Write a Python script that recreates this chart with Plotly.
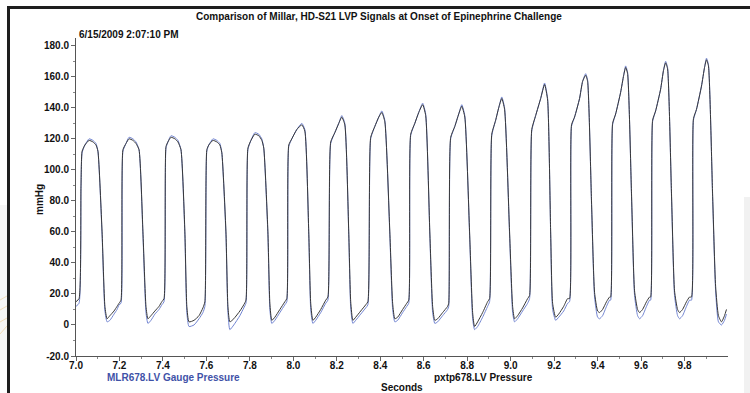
import plotly.graph_objects as go

# ---------------- data ----------------
time_s = [
    7.000, 7.014, 7.023, 7.028, 7.041, 7.060, 7.078, 7.092, 7.101, 7.120, 7.133, 7.143, 7.156, 7.175, 7.189, 7.198,
    7.207, 7.216, 7.230, 7.244, 7.262, 7.276, 7.290, 7.308, 7.322, 7.331, 7.345, 7.363, 7.382, 7.395,
    7.405, 7.414, 7.423, 7.437, 7.455, 7.469, 7.483, 7.501, 7.510, 7.520, 7.543, 7.566, 7.584,
    7.593, 7.602, 7.611, 7.630, 7.648, 7.662, 7.671, 7.690, 7.699, 7.708, 7.726, 7.754, 7.772,
    7.782, 7.791, 7.805, 7.823, 7.841, 7.855, 7.864, 7.883, 7.892, 7.901, 7.915, 7.938, 7.961,
    7.970, 7.979, 7.993, 8.016, 8.039, 8.053, 8.071, 8.080, 8.090, 8.103, 8.126, 8.149,
    8.159, 8.172, 8.191, 8.209, 8.223, 8.237, 8.255, 8.264, 8.274, 8.287, 8.310, 8.333,
    8.343, 8.356, 8.375, 8.393, 8.407, 8.421, 8.444, 8.457, 8.467, 8.480, 8.503, 8.522,
    8.531, 8.540, 8.559, 8.577, 8.595, 8.609, 8.628, 8.641, 8.651, 8.664, 8.687, 8.710,
    8.715, 8.724, 8.743, 8.761, 8.775, 8.789, 8.811, 8.825, 8.834, 8.848, 8.871, 8.894,
    8.903, 8.913, 8.931, 8.945, 8.959, 8.972, 8.995, 9.009, 9.018, 9.032, 9.055, 9.078,
    9.087, 9.097, 9.115, 9.138, 9.156, 9.170, 9.184, 9.193, 9.207, 9.221, 9.244, 9.262,
    9.271, 9.280, 9.294, 9.317, 9.331, 9.345, 9.354, 9.372, 9.386, 9.400, 9.409, 9.423, 9.441, 9.455,
    9.460, 9.469, 9.483, 9.506, 9.520, 9.529, 9.538, 9.556, 9.570, 9.584, 9.593, 9.607, 9.625, 9.639,
    9.644, 9.653, 9.667, 9.690, 9.703, 9.713, 9.722, 9.740, 9.754, 9.768, 9.777, 9.791, 9.809, 9.823,
    9.832, 9.841, 9.855, 9.878, 9.892, 9.901, 9.910, 9.929, 9.943, 9.956, 9.970, 9.984, 9.993,
]

pxtp_mmHg = [
    15, 17, 90, 112, 116, 119, 118, 116, 112, 60, 12, 4, 6, 9, 12, 14,
    16, 113, 117, 120, 119, 117, 113, 60, 12, 4, 6, 9, 12, 15,
    17, 115, 118, 121, 120, 118, 113, 60, 12, 2, 3, 6, 11,
    15, 113, 116, 119, 118, 116, 111, 60, 12, 2, 4, 9, 13,
    16, 114, 119, 123, 122, 119, 114, 60, 14, 3, 5, 10, 15,
    17, 116, 120, 126, 129, 125, 60, 14, 3, 5, 10, 16,
    18, 118, 124, 130, 134, 129, 60, 15, 3, 5, 9, 13,
    15, 121, 128, 134, 137, 131, 60, 14, 4, 5, 10, 14,
    16, 123, 130, 137, 142, 135, 60, 12, 3, 4, 8, 12,
    14, 121, 128, 136, 141, 134, 60, 8, -1, 2, 8, 15,
    17, 123, 132, 140, 146, 139, 60, 12, 4, 6, 11, 17,
    19, 126, 135, 146, 155, 145, 60, 14, 5, 7, 12, 17,
    17, 129, 134, 146, 157, 161, 157, 80, 21, 9, 8, 10, 15, 18,
    18, 130, 136, 150, 161, 166, 162, 85, 22, 10, 8, 10, 15, 18,
    18, 132, 138, 152, 164, 169, 165, 85, 22, 10, 8, 10, 15, 18,
    18, 133, 139, 154, 166, 171, 167, 85, 25, 6, 2, 6, 10,
]

mlr_mmHg = [
    12, 14, 88, 111, 116, 120, 119, 117, 112, 58, 9, 2, 3, 7, 10, 13,
    14, 112, 117, 121, 120, 118, 113, 58, 8, 1, 3, 7, 10, 13,
    15, 114, 118, 122, 121, 119, 113, 58, 8, -1, 0, 4, 8,
    12, 112, 116, 120, 119, 117, 111, 58, 8, -3, 0, 6, 11,
    14, 113, 119, 124, 123, 120, 114, 58, 10, 1, 3, 8, 13,
    15, 115, 120, 126, 130, 126, 58, 10, 1, 3, 8, 14,
    16, 117, 124, 130, 135, 130, 58, 11, 1, 3, 7, 11,
    13, 120, 128, 134, 138, 132, 58, 10, 2, 3, 8, 12,
    14, 122, 130, 137, 143, 136, 58, 8, 1, 2, 6, 10,
    12, 120, 128, 136, 142, 135, 58, 4, -3, -1, 5, 12,
    15, 122, 132, 140, 147, 140, 58, 8, 2, 4, 9, 14,
    17, 125, 135, 146, 156, 146, 58, 10, 3, 5, 9, 14,
    15, 128, 134, 146, 157, 162, 158, 78, 18, 5, 4, 6, 12, 16,
    16, 129, 136, 150, 161, 167, 163, 83, 19, 6, 4, 6, 12, 16,
    16, 131, 138, 152, 164, 170, 166, 83, 19, 6, 4, 6, 12, 16,
    16, 132, 139, 154, 166, 172, 168, 83, 22, 2, 0, 3, 7,
]

x_tick_vals = [7.0, 7.2, 7.4, 7.6, 7.8, 8.0, 8.2, 8.4, 8.6, 8.8, 9.0, 9.2, 9.4, 9.6, 9.8]
x_tick_text = ["7.0", "7.2", "7.4", "7.6", "7.8", "8.0", "8.2", "8.4", "8.6", "8.8",
               "9.0", "9.2", "9.4", "9.6", "9.8"]
y_tick_vals = [-20, 0, 20, 40, 60, 80, 100, 120, 140, 160, 180]
y_tick_text = ["-20.0", "0", "20.0", "40.0", "60.0", "80.0", "100.0", "120.0",
               "140.0", "160.0", "180.0"]

title_text = "Comparison of Millar, HD-S21 LVP Signals at Onset of Epinephrine Challenge"
date_text = "6/15/2009 2:07:10 PM"
series_mlr = "MLR678.LV Gauge Pressure"
series_pxtp = "pxtp678.LV Pressure"

# ---------------- layout geometry ----------------
W, H = 750, 393
ML, MR, MT, MB = 76, 22, 38, 37
PW, PH = W - ML - MR, H - MT - MB


def px(xp):
    return (xp - ML) / PW


def py(yp):
    return (H - MB - yp) / PH


FONT = "Liberation Sans, Arial, sans-serif"
BLUE = "#7285d2"
DARK = "#383838"

fig = go.Figure()
fig.add_trace(go.Scatter(x=time_s, y=mlr_mmHg, mode="lines", name=series_mlr,
                         line=dict(color=BLUE, width=1, shape="spline", smoothing=0.5),
                         hoverinfo="skip"))
fig.add_trace(go.Scatter(x=time_s, y=pxtp_mmHg, mode="lines", name=series_pxtp,
                         line=dict(color=DARK, width=1, shape="spline", smoothing=0.5),
                         hoverinfo="skip"))

tickfont = dict(family=FONT, size=10, color="#111", weight="bold")

fig.update_layout(
    width=W, height=H,
    margin=dict(l=ML, r=MR, t=MT, b=MB, pad=0, autoexpand=False),
    paper_bgcolor="white", plot_bgcolor="white",
    showlegend=False,
    font=dict(family=FONT, size=10, color="#111"),
    xaxis=dict(
        range=[7.0, 10.0], tickmode="array", tickvals=x_tick_vals, ticktext=x_tick_text,
        ticks="outside", ticklen=4, tickcolor="#666", tickwidth=1,
        ticklabelstandoff=-4,
        minor=dict(tickmode="linear", tick0=7.1, dtick=0.2, ticks="outside",
                   ticklen=2, tickcolor="#888"),
        showline=True, linecolor="#555", linewidth=1, automargin=False,
        showgrid=False, zeroline=False, tickfont=tickfont, fixedrange=True,
    ),
    yaxis=dict(
        range=[-20, 185], tickmode="array", tickvals=y_tick_vals, ticktext=y_tick_text,
        ticks="outside", ticklen=4, tickcolor="#666", tickwidth=1,
        minor=dict(tickmode="linear", tick0=-10, dtick=20, ticks="outside",
                   ticklen=2, tickcolor="#888"),
        showline=True, linecolor="#555", linewidth=1, automargin=False,
        showgrid=False, zeroline=False, tickfont=tickfont, fixedrange=True,
    ),
)

ann = []
ann.append(dict(text=f"<b>{title_text}</b>", x=px(379), y=py(17), xref="paper", yref="paper",
                showarrow=False, xanchor="center", yanchor="middle",
                font=dict(family=FONT, size=10, color="#111")))
ann.append(dict(text=f"<b>{date_text}</b>", x=px(77), y=py(34), xref="paper", yref="paper",
                showarrow=False, xanchor="left", yanchor="middle",
                font=dict(family=FONT, size=10, color="#111")))
ann.append(dict(text="<b>mmHg</b>", x=px(39), y=py(200), xref="paper", yref="paper",
                showarrow=False, xanchor="center", yanchor="middle", textangle=-90,
                font=dict(family=FONT, size=10, color="#111")))
ann.append(dict(text="<b>Seconds</b>", x=px(402), y=py(387), xref="paper", yref="paper",
                showarrow=False, xanchor="center", yanchor="middle",
                font=dict(family=FONT, size=10, color="#111")))
ann.append(dict(text=f"<b>{series_mlr}</b>", x=px(105), y=py(377), xref="paper", yref="paper",
                showarrow=False, xanchor="left", yanchor="middle",
                font=dict(family=FONT, size=10, color="#3f52a8")))
ann.append(dict(text=f"<b>{series_pxtp}</b>", x=px(432), y=py(377), xref="paper", yref="paper",
                showarrow=False, xanchor="left", yanchor="middle",
                font=dict(family=FONT, size=10, color="#111")))
fig.update_layout(annotations=ann)

shapes = []
# faint background artifacts of the screenshot
shapes.append(dict(type="rect", xref="paper", yref="paper", x0=px(744), x1=px(750),
                   y0=py(393), y1=py(197), line=dict(width=0), fillcolor="#f1f1f1", layer="below"))
shapes.append(dict(type="rect", xref="paper", yref="paper", x0=px(0), x1=px(7),
                   y0=py(360), y1=py(205), line=dict(width=0), fillcolor="#f6f6f6", layer="below"))
for y0, y1 in [(300, 296), (310, 306), (322, 318), (334, 326)]:
    shapes.append(dict(type="line", xref="paper", yref="paper", x0=px(0), x1=px(7),
                       y0=py(y0), y1=py(y1), line=dict(color="rgba(235,190,110,0.45)", width=1),
                       layer="below"))
# window frame (thick top and left bars)
shapes.append(dict(type="line", xref="paper", yref="paper", x0=px(8), x1=px(750),
                   y0=py(7.5), y1=py(7.5), line=dict(color="#1e1e1e", width=3)))
shapes.append(dict(type="line", xref="paper", yref="paper", x0=px(8.5), x1=px(8.5),
                   y0=py(6), y1=py(393), line=dict(color="#1e1e1e", width=3)))
fig.update_layout(shapes=shapes)

# remove the browser's default page margin so the figure sits at (0, 0)
post_js = ("document.body.style.margin='0';document.body.style.padding='0';"
           "document.body.style.overflow='hidden';"
           "document.documentElement.style.overflow='hidden';")
fig.write_html("out.html", config={"displayModeBar": False}, post_script=post_js)
